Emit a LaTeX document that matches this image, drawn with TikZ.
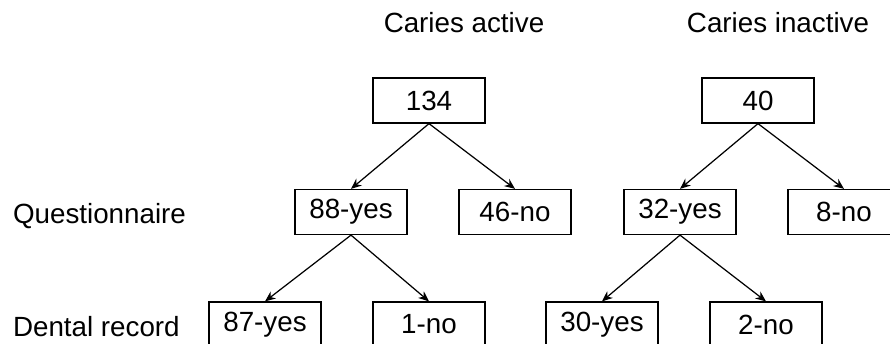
\documentclass[tikz,border=0pt]{standalone}
\usepackage{fontspec}
\setmainfont{Liberation Sans}
\usetikzlibrary{arrows.meta}

\begin{document}
\begin{tikzpicture}[
    box/.style={
        rectangle, draw=black, line width=0.7pt, fill=white,
        minimum width=2.24cm, minimum height=0.9cm, inner sep=0pt,
        font=\fontsize{15.8}{18}\selectfont
    },
    heading/.style={anchor=base, font=\fontsize{15.8}{18}\selectfont},
    rowlabel/.style={anchor=base west, inner sep=0pt, font=\fontsize{15.8}{18}\selectfont},
    link/.style={draw, line width=0.7pt, -{Stealth[length=6pt, width=5pt]}}
]
\useasboundingbox (0,0) rectangle (17.8,6.86);

% --- Títulos ---
\node[heading] (hActive) at (9.28,6.22) {Caries active};
\node[heading] (hInactive) at (15.56,6.22) {Caries inactive};

% --- Etiquetas de fila ---
\node[rowlabel] (lQuest) at (0.254,2.40) {Questionnaire};
\node[rowlabel] (lRecord) at (0.254,0.126) {Dental record};

% --- Caries active ---
\node[box] (act) at (8.58,4.85) {134};
\node[box] (actYes) at (7.02,2.62) {88-yes};
\node[box] (actNo) at (10.30,2.62) {46-no};
\node[box] (actYesYes) at (5.30,0.37) {87-yes};
\node[box] (actYesNo) at (8.58,0.37) {1-no};

% --- Caries inactive ---
\node[box] (inact) at (15.16,4.85) {40};
\node[box] (inactYes) at (13.60,2.62) {32-yes};
\node[box] (inactNo) at (16.88,2.62) {8-no};
\node[box] (inactYesYes) at (12.04,0.37) {30-yes};
\node[box] (inactYesNo) at (15.32,0.37) {2-no};

% --- Flechas ---
\draw[link] (act.south) -- (actYes.north);
\draw[link] (act.south) -- (actNo.north);
\draw[link] (actYes.south) -- (actYesYes.north);
\draw[link] (actYes.south) -- (actYesNo.north);
\draw[link] (inact.south) -- (inactYes.north);
\draw[link] (inact.south) -- (inactNo.north);
\draw[link] (inactYes.south) -- (inactYesYes.north);
\draw[link] (inactYes.south) -- (inactYesNo.north);

\end{tikzpicture}
\end{document}
